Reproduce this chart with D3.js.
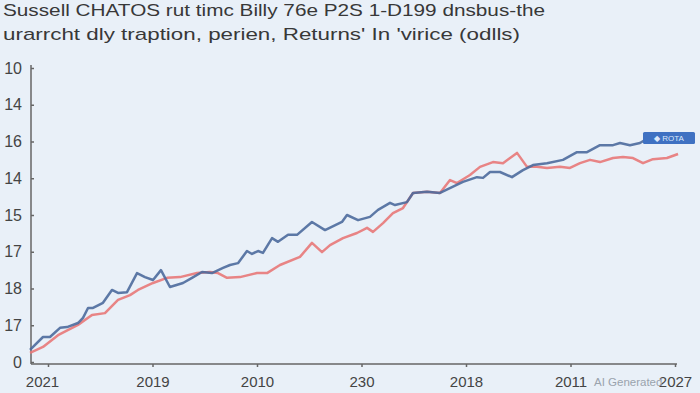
<!DOCTYPE html>
<html>
<head>
<meta charset="utf-8">
<script src="https://cdn.jsdelivr.net/npm/d3@7"></script>
<style>
html,body{margin:0;padding:0;background:#e9f0f8;}
svg{display:block;font-family:"Liberation Sans",Arial,sans-serif;}
</style>
</head>
<body>
<svg id="chart" width="700" height="393"></svg>
<script>
const titleLines = [
  "Sussell CHATOS rut timc Billy 76e P2S 1-D199 dnsbus-the",
  "urarrcht dly traption, perien, Returns' In 'virice (odlls)"
];
const yTickLabels = ["0", "17", "18", "17", "15", "14", "16", "14", "10"];
const xTickLabels = ["2021", "2019", "2010", "230", "2018", "2011", "2027"];
const legendLabel = "◆ ROTA";
const watermark = "AI Generated";

const blueX = [-0.172,-0.048,0.019,0.115,0.182,0.287,0.335,0.383,0.431,0.526,0.612,0.670,0.756,0.852,0.928,1.005,1.081,1.167,1.292,1.378,1.474,1.569,1.675,1.742,1.818,1.904,1.952,2.010,2.057,2.144,2.201,2.297,2.383,2.526,2.651,2.813,2.861,2.967,3.081,3.158,3.273,3.321,3.435,3.493,3.627,3.751,3.866,3.971,4.105,4.163,4.230,4.325,4.440,4.545,4.641,4.775,4.928,5.062,5.158,5.282,5.407,5.474,5.569,5.665,5.700];
const blueY = [0.33,0.68,0.68,0.93,0.95,1.06,1.20,1.47,1.47,1.61,1.96,1.88,1.90,2.42,2.31,2.23,2.50,2.04,2.15,2.29,2.45,2.42,2.56,2.64,2.69,3.02,2.94,3.02,2.97,3.37,3.27,3.46,3.46,3.81,3.59,3.81,4.00,3.86,3.95,4.14,4.33,4.27,4.35,4.60,4.63,4.60,4.76,4.90,5.03,5.01,5.17,5.17,5.03,5.22,5.36,5.41,5.50,5.71,5.71,5.90,5.90,5.96,5.90,5.96,6.02];

const redX = [-0.172,-0.048,0.096,0.287,0.421,0.545,0.670,0.785,0.861,1.005,1.139,1.263,1.426,1.550,1.627,1.713,1.837,2.000,2.096,2.220,2.411,2.526,2.622,2.699,2.823,2.957,3.053,3.110,3.206,3.301,3.397,3.493,3.627,3.751,3.847,3.914,4.038,4.134,4.258,4.354,4.488,4.584,4.679,4.775,4.900,4.995,5.091,5.187,5.282,5.407,5.502,5.598,5.694,5.789,5.923,6.029];
const redY = [0.25,0.41,0.73,1.01,1.28,1.33,1.69,1.82,1.96,2.15,2.29,2.31,2.42,2.45,2.42,2.29,2.31,2.42,2.42,2.64,2.86,3.24,2.99,3.18,3.37,3.51,3.65,3.54,3.78,4.05,4.19,4.60,4.63,4.60,4.95,4.87,5.09,5.31,5.44,5.41,5.69,5.31,5.31,5.28,5.31,5.28,5.41,5.50,5.44,5.55,5.58,5.55,5.41,5.52,5.55,5.66];

const svg = d3.select("#chart");
const W = 700, H = 393;
svg.append("rect").attr("width", W).attr("height", H).attr("fill", "#e9f0f8");

const x = d3.scaleLinear().domain([0, 6]).range([48, 675]);
const y = d3.scaleLinear().domain([0, 8]).range([362, 68]);
const axisLeftX = 31, axisBottomY = 364;

svg.append("g").selectAll("text").data(titleLines).join("text")
  .attr("x", 3).attr("y", (d, i) => 16 + i * 24)
  .attr("font-size", 17).attr("fill", "#383838")
  .attr("textLength", (d, i) => i === 0 ? 542 : 517)
  .attr("lengthAdjust", "spacingAndGlyphs")
  .text(d => d);

const yAxis = d3.axisLeft(y).tickValues(d3.range(yTickLabels.length))
  .tickFormat(i => yTickLabels[i]).tickSize(-3).tickPadding(9);
const gy = svg.append("g").attr("transform", `translate(${axisLeftX},0)`).call(yAxis);
gy.select(".domain").attr("d", `M0,65V${axisBottomY}`).attr("stroke", "#666").attr("stroke-width", 1.5);
gy.selectAll(".tick line").attr("stroke", "#666").attr("stroke-width", 1.5);
gy.selectAll(".tick text").attr("font-size", 16).attr("fill", "#444")
  .attr("font-family", "Liberation Sans, Arial, sans-serif");

const xAxis = d3.axisBottom(x).tickValues(d3.range(xTickLabels.length))
  .tickFormat(i => xTickLabels[i]).tickSize(3).tickPadding(9);
const gx = svg.append("g").attr("transform", `translate(0,${axisBottomY})`).call(xAxis);
gx.select(".domain").attr("d", `M${axisLeftX},0H677`).attr("stroke", "#666").attr("stroke-width", 1.5);
gx.selectAll(".tick line").attr("stroke", "#666").attr("stroke-width", 1.5);
gx.selectAll(".tick text").attr("font-size", 15).attr("fill", "#444")
  .attr("font-family", "Liberation Sans, Arial, sans-serif")
  .attr("dx", (d, i) => i === 0 ? -6 : 0);

const line = d3.line().x(d => x(d[0])).y(d => y(d[1])).curve(d3.curveLinear);
const redData = redX.map((v, i) => [v, redY[i]]);
const blueData = blueX.map((v, i) => [v, blueY[i]]);
svg.append("path").datum(redData).attr("d", line)
  .attr("fill", "none").attr("stroke", "#e87878").attr("stroke-width", 2.5)
  .attr("stroke-linejoin", "round").attr("opacity", 0.9);
svg.append("path").datum(blueData).attr("d", line)
  .attr("fill", "none").attr("stroke", "#4c6a9c").attr("stroke-width", 2.5)
  .attr("stroke-linejoin", "round").attr("opacity", 0.9);

const lg = svg.append("g").attr("transform", "translate(643,132)");
lg.append("rect").attr("width", 52).attr("height", 12).attr("rx", 1.5).attr("fill", "#3f71c2");
lg.append("text").attr("x", 26).attr("y", 9).attr("text-anchor", "middle")
  .attr("font-size", 8).attr("fill", "#dce8fa").text(legendLabel);

svg.append("text").attr("x", 594).attr("y", 386).attr("font-size", 11.5)
  .attr("fill", "#9aa3ad").text(watermark);
</script>
</body>
</html>
